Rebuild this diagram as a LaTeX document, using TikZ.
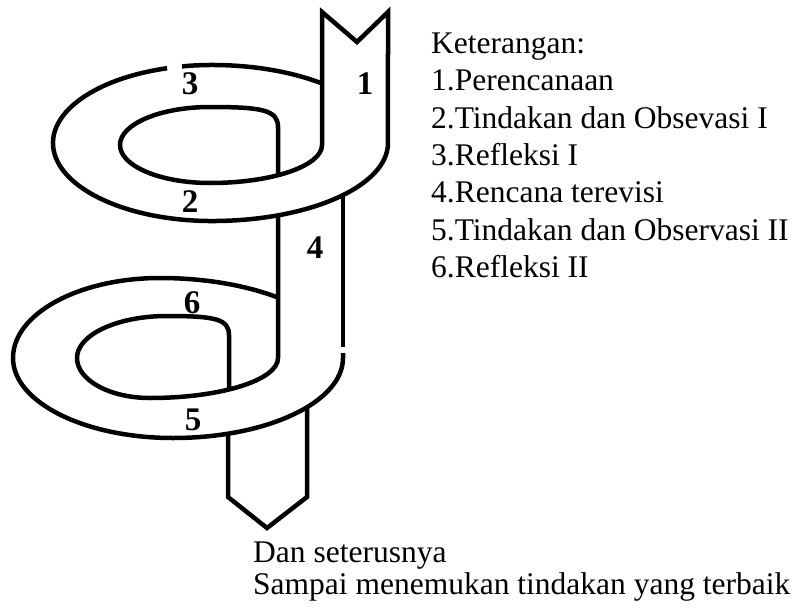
\documentclass[tikz,border=0pt]{standalone}
\usepackage{fontspec}
\setmainfont{Liberation Serif}
\begin{document}
\begin{tikzpicture}[x=1pt,y=1pt,
  band/.style={line width=4.5pt},
  lbl/.style={font=\fontsize{33}{33}\selectfont\bfseries, inner sep=0pt},
  txt/.style={font=\fontsize{31.5}{37}\selectfont, inner sep=0pt, anchor=base west}]
\useasboundingbox (0,0) rectangle (793,-608);
% ring 1 outer (after gap) + strip 1 + ring 1 inner
\draw[band] (167.1,-68.2) arc[start angle=106.4,end angle=270,x radius=159,y radius=78]
  arc[start angle=270,end angle=360,x radius=176,y radius=78]
  -- (388,-12) -- (357,-42) -- (322,-12) -- (322,-145)
  arc[start angle=0,end angle=-90,x radius=112,y radius=38]
  arc[start angle=270,end angle=180,x radius=90,y radius=38]
  arc[start angle=180,end angle=90,x radius=90,y radius=38]
  .. controls (262,-107) and (278,-110) .. (278,-127) -- (278,-175);
% ring 1 outer top (before gap)
\draw[band] (322,-83.5) arc[start angle=49.7,end angle=90,x radius=170,y radius=78]
  arc[start angle=90,end angle=100.9,x radius=159,y radius=78];
% strip 4 right edge
\draw[band] (343,-195) -- (343,-347);
% ring 2 outer
\draw[band] (343,-353) -- (343,-358)
  arc[start angle=0,end angle=-90,x radius=170,y radius=80]
  arc[start angle=270,end angle=180,x radius=160,y radius=80]
  arc[start angle=180,end angle=90,x radius=147,y radius=80]
  arc[start angle=90,end angle=49,x radius=180,y radius=80];
% strip 4 left edge + ring 2 inner
\draw[band] (278,-215) -- (278,-358)
  arc[start angle=0,end angle=-90,x radius=128,y radius=40]
  arc[start angle=270,end angle=180,x radius=73,y radius=40]
  arc[start angle=180,end angle=90,x radius=90,y radius=42]
  .. controls (215,-316) and (229,-319) .. (229,-335) -- (229,-390);
% bottom strip
\draw[band] (228,-433) -- (228,-497) -- (267,-528) -- (307,-497) -- (307,-407);
% labels
\node[lbl] (n1) at (365,-84) {1};
\node[lbl] (n2) at (190,-202) {2};
\node[lbl] (n3) at (190,-84) {3};
\node[lbl] (n4) at (315,-248) {4};
\node[lbl] (n5) at (193,-420) {5};
\node[lbl] (n6) at (192,-303) {6};
% legend
\node[txt] (k0) at (431,-53) {Keterangan:};
\node[txt] (k1) at (431,-90.5) {1.Perencanaan};
\node[txt] (k2) at (431,-128) {2.Tindakan dan Obsevasi I};
\node[txt] (k3) at (431,-165) {3.Refleksi I};
\node[txt] (k4) at (431,-202) {4.Rencana terevisi};
\node[txt] (k5) at (431,-240) {5.Tindakan dan Observasi II};
\node[txt] (k6) at (431,-277) {6.Refleksi II};
\node[txt] (d1) at (253,-562) {Dan seterusnya};
\node[txt] (d2) at (253,-594) {Sampai menemukan tindakan yang terbaik};
\end{tikzpicture}
\end{document}
